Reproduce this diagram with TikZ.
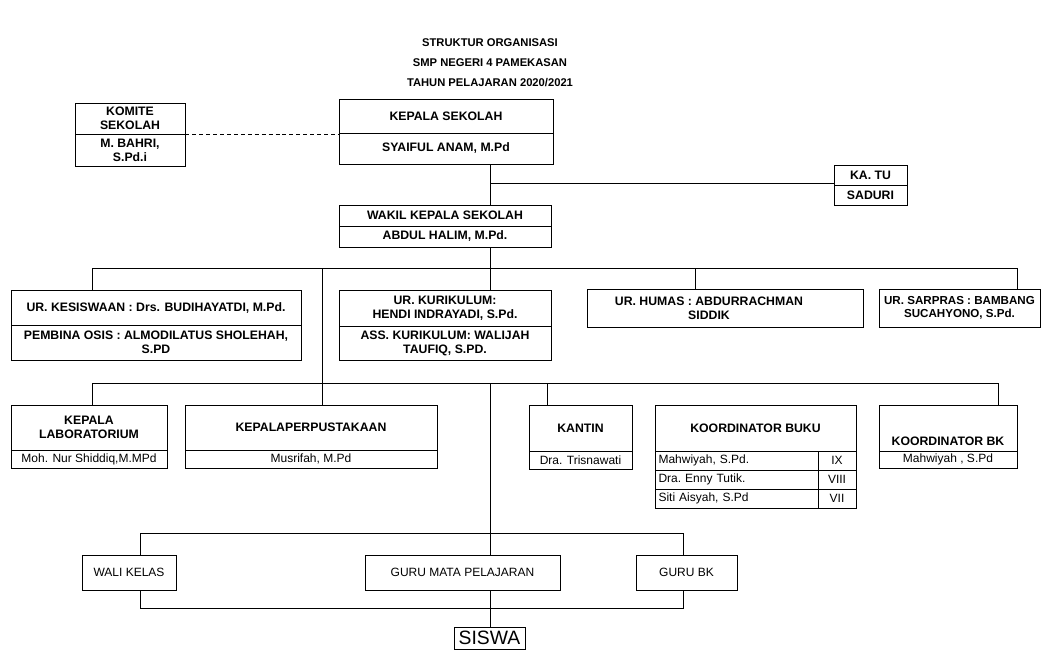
\documentclass[tikz,border=0pt]{standalone}
\usepackage{fontspec}
\setmainfont{Liberation Sans}
\newcommand\obox[7][bx]{\node[#1,minimum width={(#5-#3)*0.75pt},minimum height={(#6-#4)*0.75pt}] (#2) at ({(#3+#5)/2},{(#4+#6)/2}) {#7};}
\begin{document}
\begin{tikzpicture}[x=0.75pt,y=-0.75pt,
  bx/.style={draw, line width=0.6pt, inner sep=0pt, align=center, font=\fontsize{9.2}{10.4}\selectfont\bfseries},
  nm/.style={bx, font=\fontsize{9}{10}\selectfont},
  lt/.style={font=\fontsize{9.2}{10.4}\selectfont\bfseries, align=center, inner sep=0pt},
  ttl/.style={font=\fontsize{8.4}{10}\selectfont\bfseries, inner sep=0pt},
  ln/.style={line width=0.6pt}
]
\useasboundingbox (0,0) rectangle (1053,650);
% title
\node[ttl] (t1) at (490,43) {STRUKTUR ORGANISASI};
\node[ttl] (t2) at (490,63) {SMP NEGERI 4 PAMEKASAN};
\node[ttl] (t3) at (490,83) {TAHUN PELAJARAN 2020/2021};
% top level
\obox{kom1}{75}{103}{185}{134}{KOMITE\\SEKOLAH}
\obox{kom2}{75}{134}{185}{166}{M. BAHRI,\\S.Pd.i}
\obox{kep1}{339}{99}{553}{133}{KEPALA SEKOLAH}
\obox{kep2}{339}{133}{553}{164}{SYAIFUL ANAM, M.Pd}
\obox{katu1}{834}{165}{907}{185}{KA. TU}
\obox{katu2}{834}{185}{907}{205}{SADURI}
\obox{wk1}{339}{205}{551}{226}{WAKIL KEPALA SEKOLAH}
\obox{wk2}{339}{226}{551}{247}{ABDUL HALIM, M.Pd.}
% row 2
\obox{kes1}{11}{290}{301}{325}{UR. KESISWAAN : Drs. BUDIHAYATDI, M.Pd.}
\obox{kes2}{11}{325}{301}{360}{PEMBINA OSIS : ALMODILATUS SHOLEHAH,\\S.PD}
\obox{kur1}{339}{290}{551}{326}{UR. KURIKULUM:\\HENDI INDRAYADI, S.Pd.}
\obox{kur2}{339}{326}{551}{360}{ASS. KURIKULUM: WALIJAH\\TAUFIQ, S.PD.}
\obox{hum}{587}{289}{863}{327}{}
\node[lt] (humt) at (709,308) {UR. HUMAS : ABDURRACHMAN\\SIDDIK};
\obox[{bx,font=\fontsize{8.7}{10.2}\selectfont\bfseries}]{sar}{879}{289}{1040}{327}{UR. SARPRAS : BAMBANG\\SUCAHYONO, S.Pd.}
% row 3
\obox{lab1}{11}{405}{167}{450}{KEPALA\\LABORATORIUM}
\obox[nm]{lab2}{11}{450}{167}{468}{Moh. Nur Shiddiq,M.MPd}
\obox{per1}{185}{405}{437}{450}{KEPALAPERPUSTAKAAN}
\obox[nm]{per2}{185}{450}{437}{468}{Musrifah, M.Pd}
\obox{kan1}{529}{405}{632}{451}{KANTIN}
\obox[nm]{kan2}{529}{451}{632}{469}{Dra. Trisnawati}
\obox{kb1}{655}{405}{856}{451}{KOORDINATOR BUKU}
\obox[{nm,text width=117pt,align=left}]{kb2}{655}{451}{818}{470}{Mahwiyah, S.Pd.}
\obox[{nm,text width=117pt,align=left}]{kb3}{655}{470}{818}{489}{Dra.\ Enny Tutik.}
\obox[{nm,text width=117pt,align=left}]{kb4}{655}{489}{818}{508}{Siti Aisyah, S.Pd}
\obox[nm]{kb5}{818}{451}{856}{470}{IX}
\obox[nm]{kb6}{818}{470}{856}{489}{VIII}
\obox[nm]{kb7}{818}{489}{856}{508}{VII}
\obox{bk1}{879}{405}{1017}{451}{}
\node[lt] (bkt) at (948,441) {KOORDINATOR BK};
\obox[nm]{bk2}{879}{451}{1017}{468}{Mahwiyah , S.Pd}
% bottom
\obox[nm]{wal}{82}{555}{176}{590}{WALI KELAS}
\obox[nm]{gmp}{365}{555}{560}{590}{GURU MATA PELAJARAN}
\obox[nm]{gbk}{636}{555}{737}{590}{GURU BK}
\obox[{nm,font=\fontsize{14.5}{15}\selectfont}]{sis}{454}{627}{525}{649}{SISWA}
% connectors
\coordinate (T) at (490,0);
\coordinate (j1) at (490,183);
\draw[ln, dash pattern=on 3pt off 2.2pt] (kom1.south east) -- (kom1.south east -| kep1.west);
\draw[ln] (T |- kep2.south) -- (T |- wk1.north);
\draw[ln] (j1) -- (j1 -| katu1.west);
\draw[ln] (T |- wk2.south) -- (T |- kur1.north);
\coordinate (r2L) at (92,268);
\coordinate (r2R) at (1017,268);
\coordinate (d1) at (322,268);
\coordinate (d2) at (695,268);
\draw[ln] (r2L |- kes1.north) -- (r2L) -- (r2R) -- (r2R |- sar.north);
\draw[ln] (d1) -- (d1 |- per1.north);
\draw[ln] (d2) -- (d2 |- hum.north);
\coordinate (r3L) at (92,383);
\coordinate (r3R) at (998,383);
\coordinate (d3) at (547,383);
\draw[ln] (r3L |- lab1.north) -- (r3L) -- (r3R) -- (r3R |- bk1.north);
\draw[ln] (d3) -- (d3 |- kan1.north);
\draw[ln] (T |- r3L) -- (T |- gmp.north);
\coordinate (b1L) at (140,533);
\coordinate (b1R) at (683,533);
\coordinate (b2L) at (140,608);
\coordinate (b2R) at (683,608);
\draw[ln] (b1L |- wal.north) -- (b1L) -- (b1R) -- (b1R |- gbk.north);
\draw[ln] (b1L |- wal.south) -- (b2L) -- (b2R) -- (b1R |- gbk.south);
\draw[ln] (T |- gmp.south) -- (T |- sis.north);
\end{tikzpicture}
\end{document}
